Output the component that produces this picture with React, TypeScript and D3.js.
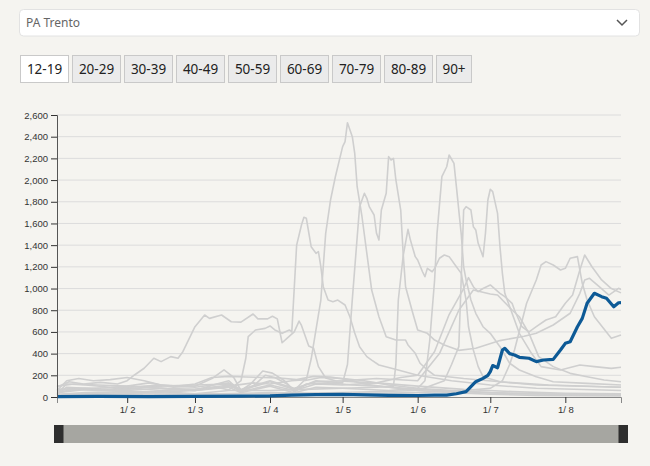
import React, { useEffect, useRef } from "react";
import * as d3 from "d3";

type Pt = [string, number];

const region = "PA Trento";
const ageGroups = ["12-19", "20-29", "30-39", "40-49", "50-59", "60-69", "70-79", "80-89", "90+"];
const selectedGroup = "12-19";
const yTicks = [0, 200, 400, 600, 800, 1000, 1200, 1400, 1600, 1800, 2000, 2200, 2400, 2600];
const xDomain = ["01-03", "08-24"];
const xTicks = ["02-01", "03-01", "04-01", "05-01", "06-01", "07-01", "08-01"];

// highlighted group
const teen: Pt[] = [
  ["01-03", 3], ["01-20", 5], ["02-10", 4], ["03-01", 6], ["03-20", 8], ["04-01", 10], ["04-10", 18],
  ["04-20", 22], ["05-01", 25], ["05-10", 20], ["05-20", 15], ["06-01", 14], ["06-08", 18], ["06-13", 18],
  ["06-17", 30], ["06-21", 49], ["06-23", 95], ["06-25", 141], ["06-28", 172], ["06-30", 200], ["07-01", 234],
  ["07-02", 290], ["07-04", 270], ["07-06", 433], ["07-07", 449], ["07-09", 400], ["07-11", 387], ["07-13", 366],
  ["07-17", 357], ["07-20", 326], ["07-23", 341], ["07-27", 347], ["07-30", 433], ["08-01", 495], ["08-03", 510],
  ["08-06", 648], ["08-08", 725], ["08-10", 864], ["08-13", 956], ["08-16", 925], ["08-18", 910], ["08-21", 832],
  ["08-23", 869], ["08-24", 870],
];

// other groups (grey)
const g1: Pt[] = [
  ["01-03", 90], ["01-08", 140], ["01-14", 120], ["01-21", 135], ["01-28", 120], ["02-01", 150], ["02-04", 203],
  ["02-08", 265], ["02-12", 357], ["02-15", 326], ["02-19", 372], ["02-22", 357], ["02-24", 418], ["02-27", 556],
  ["03-01", 648], ["03-05", 756], ["03-07", 725], ["03-12", 756], ["03-16", 694], ["03-20", 690], ["03-25", 765],
  ["03-27", 720], ["03-31", 720], ["04-02", 745], ["04-04", 720], ["04-06", 500], ["04-08", 540], ["04-11", 600],
  ["04-13", 700], ["04-14", 660], ["04-17", 470], ["04-19", 450], ["04-21", 280], ["04-24", 175], ["04-28", 150],
  ["05-05", 140], ["05-15", 130], ["06-01", 100], ["06-20", 70], ["07-10", 50], ["08-01", 35], ["08-24", 30],
];
const g2: Pt[] = [
  ["01-03", 40], ["01-10", 70], ["01-20", 60], ["02-01", 80], ["02-15", 60], ["03-01", 70], ["03-10", 90],
  ["03-15", 65], ["03-20", 150], ["03-22", 357], ["03-23", 556], ["03-26", 618], ["03-30", 633], ["04-01", 655],
  ["04-03", 618], ["04-06", 587], ["04-09", 618], ["04-10", 600], ["04-12", 1400], ["04-14", 1586], ["04-15", 1657],
  ["04-16", 1648], ["04-18", 1386], ["04-20", 1325], ["04-21", 1340], ["04-22", 1201], ["04-23", 1017], ["04-25", 894],
  ["04-27", 879], ["04-29", 894], ["05-02", 848], ["05-04", 740], ["05-06", 590], ["05-08", 464], ["05-11", 372],
  ["05-13", 340], ["05-16", 295], ["05-22", 260], ["06-01", 200], ["06-15", 150], ["07-01", 110], ["07-20", 80],
  ["08-24", 60],
];
const g3: Pt[] = [
  ["01-03", 100], ["01-10", 120], ["01-20", 110], ["02-01", 100], ["02-15", 80], ["03-01", 60], ["03-15", 100],
  ["03-25", 130], ["04-01", 120], ["04-10", 150], ["04-16", 160], ["04-18", 350], ["04-22", 894], ["04-24", 1509],
  ["04-26", 1816], ["04-28", 2031], ["05-01", 2308], ["05-02", 2354], ["05-03", 2529], ["05-05", 2400],
  ["05-06", 2247], ["05-07", 1939], ["05-09", 1662], ["05-11", 1325], ["05-13", 986], ["05-16", 740], ["05-19", 556],
  ["05-23", 525], ["05-27", 525], ["05-28", 480], ["05-31", 403], ["06-02", 311], ["06-05", 249], ["06-08", 200],
  ["06-20", 170], ["07-05", 140], ["07-25", 110], ["08-24", 90],
];
const g4: Pt[] = [
  ["01-03", 70], ["01-12", 80], ["01-25", 70], ["02-01", 90], ["02-15", 100], ["03-01", 110], ["03-15", 120],
  ["03-20", 60], ["04-01", 140], ["04-11", 70], ["04-20", 150], ["05-01", 130], ["05-03", 300], ["05-05", 900],
  ["05-08", 1755], ["05-10", 1878], ["05-11", 1832], ["05-12", 1755], ["05-14", 1678], ["05-15", 1509],
  ["05-16", 1447], ["05-17", 1724], ["05-19", 1878], ["05-20", 2216], ["05-21", 2185], ["05-22", 2200],
  ["05-23", 2001], ["05-25", 1724], ["05-26", 1325], ["05-27", 1017], ["05-30", 772], ["06-01", 618], ["06-05", 587],
  ["06-08", 525], ["06-12", 480], ["06-18", 430], ["06-25", 450], ["07-05", 520], ["07-15", 560], ["07-20", 587],
  ["07-27", 664], ["08-03", 772], ["08-07", 956], ["08-09", 1079], ["08-11", 1094], ["08-15", 1017], ["08-19", 940],
  ["08-23", 1002], ["08-24", 990],
];
const g5: Pt[] = [
  ["01-03", 20], ["01-15", 30], ["02-01", 40], ["02-15", 50], ["03-01", 30], ["03-15", 60], ["04-01", 60],
  ["04-15", 70], ["05-01", 80], ["05-15", 90], ["05-22", 100], ["05-23", 300], ["05-24", 894], ["05-26", 1300],
  ["05-28", 1546], ["05-29", 1447], ["05-31", 1294], ["06-01", 1263], ["06-03", 1155], ["06-04", 1109],
  ["06-05", 1186], ["06-07", 1155], ["06-08", 1186], ["06-10", 1279], ["06-12", 1309], ["06-14", 1294],
  ["06-17", 1201], ["06-19", 1140], ["06-21", 894], ["06-22", 648], ["06-24", 433], ["06-26", 280], ["06-28", 187],
  ["07-05", 140], ["07-20", 110], ["08-24", 90],
];
const g6: Pt[] = [
  ["01-03", 25], ["01-15", 40], ["02-01", 50], ["02-15", 45], ["03-01", 60], ["03-15", 90], ["03-20", 40],
  ["04-01", 100], ["04-11", 40], ["04-20", 90], ["05-01", 80], ["05-20", 60], ["06-01", 80], ["06-04", 150],
  ["06-06", 525], ["06-08", 1079], ["06-09", 1509], ["06-11", 2031], ["06-13", 2123], ["06-14", 2231],
  ["06-16", 2154], ["06-17", 1939], ["06-19", 1500], ["06-20", 1200], ["06-21", 1079], ["06-23", 894], ["06-25", 772],
  ["06-28", 648], ["07-01", 587], ["07-05", 464], ["07-09", 311], ["07-13", 249], ["07-20", 187], ["07-27", 141],
  ["08-10", 126], ["08-24", 110],
];
const g7: Pt[] = [
  ["01-03", 10], ["01-20", 20], ["02-01", 20], ["03-01", 30], ["04-01", 30], ["05-01", 40], ["06-01", 60],
  ["06-12", 150], ["06-15", 300], ["06-18", 464], ["06-20", 1724], ["06-21", 1755], ["06-23", 1724], ["06-24", 1570],
  ["06-25", 1540], ["06-26", 1417], ["06-28", 1294], ["06-29", 1509], ["06-30", 1816], ["07-01", 1915],
  ["07-02", 1893], ["07-04", 1693], ["07-05", 1386], ["07-06", 1140], ["07-07", 956], ["07-10", 772], ["07-13", 587],
  ["07-18", 403], ["07-22", 280], ["07-30", 249], ["08-07", 295], ["08-13", 280], ["08-20", 264], ["08-24", 275],
];
const g8: Pt[] = [
  ["01-03", 40], ["01-15", 70], ["02-01", 60], ["02-15", 80], ["03-01", 70], ["03-15", 110], ["03-20", 50],
  ["04-01", 110], ["04-11", 60], ["04-20", 120], ["05-01", 110], ["05-15", 130], ["05-25", 180], ["06-01", 200],
  ["06-08", 420], ["06-14", 760], ["06-20", 1000], ["06-22", 1100], ["06-24", 1017], ["06-26", 971], ["06-28", 1000],
  ["07-01", 1033], ["07-05", 956], ["07-07", 925], ["07-10", 864], ["07-11", 802], ["07-14", 650], ["07-17", 600],
  ["07-20", 648], ["07-24", 710], ["07-28", 740], ["08-01", 864], ["08-04", 940], ["08-07", 1171], ["08-09", 1309],
  ["08-12", 1201], ["08-16", 1079], ["08-20", 1000], ["08-24", 960],
];
const g9: Pt[] = [
  ["01-03", 60], ["01-15", 80], ["02-01", 90], ["02-15", 110], ["03-01", 90], ["03-15", 130], ["03-20", 70],
  ["04-01", 150], ["04-11", 80], ["04-20", 140], ["05-01", 150], ["05-15", 170], ["06-01", 150], ["06-10", 400],
  ["06-18", 800], ["06-24", 986], ["07-01", 950], ["07-04", 940], ["07-10", 802], ["07-13", 740], ["07-17", 587],
  ["07-21", 372], ["07-27", 280], ["08-03", 218], ["08-10", 187], ["08-17", 157], ["08-24", 141],
];
const g10: Pt[] = [
  ["01-03", 15], ["02-01", 30], ["03-01", 25], ["04-01", 40], ["05-01", 30], ["06-01", 40], ["06-20", 60],
  ["07-01", 80], ["07-06", 150], ["07-09", 300], ["07-11", 433], ["07-16", 864], ["07-20", 1079], ["07-22", 1217],
  ["07-24", 1248], ["07-27", 1217], ["07-30", 1171], ["08-01", 1186], ["08-03", 1279], ["08-06", 1294],
  ["08-08", 1048], ["08-10", 894], ["08-13", 740], ["08-20", 541], ["08-24", 571],
];
const g11: Pt[] = [
  ["01-03", 60], ["01-07", 150], ["01-12", 170], ["01-18", 150], ["01-25", 160], ["02-01", 180], ["02-08", 150],
  ["02-15", 110], ["02-22", 100], ["03-01", 120], ["03-08", 180], ["03-15", 190], ["03-22", 185], ["03-29", 180],
  ["04-05", 175], ["04-12", 160], ["04-19", 190], ["04-26", 185], ["05-03", 160], ["05-10", 120], ["05-20", 90],
  ["06-01", 60], ["06-15", 40], ["07-01", 25], ["07-20", 15], ["08-24", 10],
];
const g12: Pt[] = [
  ["01-03", 30], ["01-07", 120], ["01-15", 110], ["01-25", 90], ["02-01", 100], ["02-10", 130], ["02-20", 90],
  ["03-01", 100], ["03-08", 170], ["03-13", 250], ["03-17", 180], ["03-20", 60], ["03-24", 120], ["03-29", 240],
  ["04-02", 220], ["04-07", 150], ["04-11", 60], ["04-15", 150], ["04-22", 180], ["05-01", 170], ["05-10", 150],
  ["05-20", 110], ["06-01", 80], ["06-15", 60], ["07-01", 40], ["07-20", 30], ["08-24", 20],
];
const g13: Pt[] = [
  ["01-03", 20], ["01-07", 90], ["01-15", 80], ["01-25", 60], ["02-01", 70], ["02-10", 90], ["02-20", 70],
  ["03-01", 60], ["03-10", 120], ["03-15", 150], ["03-20", 50], ["03-25", 100], ["03-30", 200], ["04-03", 180],
  ["04-08", 120], ["04-11", 45], ["04-16", 120], ["04-25", 130], ["05-05", 110], ["05-15", 100], ["06-01", 70],
  ["06-20", 50], ["07-10", 30], ["08-24", 20],
];
const others = [g1, g2, g3, g4, g5, g6, g7, g8, g9, g10, g11, g12, g13];

const parse = (s: string) => d3.timeParse("%Y-%m-%d")("2021-" + s) as Date;

const App: React.FC = () => {
  const xRef = useRef<SVGGElement | null>(null);
  const yRef = useRef<SVGGElement | null>(null);

  const x = d3.scaleTime().domain(xDomain.map(parse)).range([57, 621]);
  const y = d3.scaleLinear().domain([0, 2600]).range([397, 115]);
  const line = d3
    .line<Pt>()
    .x((d) => x(parse(d[0])))
    .y((d) => y(d[1]));

  useEffect(() => {
    const font = "Liberation Sans, Arial, sans-serif";
    const gx = d3.select(xRef.current!);
    gx.selectAll("*").remove();
    gx.call(
      d3
        .axisBottom(x)
        .tickValues(xTicks.map(parse))
        .tickFormat((d) => d3.timeFormat("%-d/%_m")(d as Date))
    );
    gx.attr("font-family", font).attr("font-size", 9.5).style("color", "#333");
    gx.select(".domain").attr("stroke", "#888");

    const gy = d3.select(yRef.current!);
    gy.selectAll("*").remove();
    gy.call(d3.axisLeft(y).tickValues(yTicks).tickFormat(d3.format(",")));
    gy.attr("font-family", font).attr("font-size", 9.5).style("color", "#333");
    gy.select(".domain").attr("stroke", "#555");
  }, []);

  const btnX = [20, 72, 124, 176, 228, 280, 332, 384, 436];

  return (
    <div style={{ position: "fixed", left: 0, top: 0, width: 650, height: 466, background: "#f5f4f0" }}>
      <svg width={650} height={466} style={{ display: "block" }}>
        <rect x={19.5} y={9.5} width={620} height={26.5} rx={4} fill="#fff" stroke="#e2e2e2" />
        <text x={26} y={27} fontFamily="Noto Sans, sans-serif" fontSize={12} fill="#666">
          {region}
        </text>
        <polyline points="617,20 622,25 627,20" fill="none" stroke="#555" strokeWidth={1.5} />

        {ageGroups.map((g, i) => {
          const w = g === "90+" ? 35 : 48;
          const on = g === selectedGroup;
          return (
            <g key={g}>
              <rect
                x={btnX[i] + 0.5}
                y={55.5}
                width={w}
                height={27}
                fill={on ? "#fff" : "#ebebeb"}
                stroke="#c9c9c9"
              />
              <text
                x={btnX[i] + 0.5 + w / 2}
                y={74}
                textAnchor="middle"
                fontFamily="Noto Sans, sans-serif"
                fontSize={13.5}
                fill="#222"
              >
                {g}
              </text>
            </g>
          );
        })}

        {yTicks
          .filter((t) => t > 0)
          .map((t) => (
            <line key={t} x1={57} x2={621} y1={y(t)} y2={y(t)} stroke="#dcdcdc" strokeWidth={1} />
          ))}

        <g ref={xRef} transform="translate(0,397)" />

        {others.map((s, i) => (
          <path key={i} d={line(s) || ""} fill="none" stroke="#cfcfcf" strokeWidth={1.6} strokeLinejoin="round" />
        ))}
        <path d={line(teen) || ""} fill="none" stroke="#0d5a96" strokeWidth={3.2} strokeLinejoin="round" />

        <g ref={yRef} transform="translate(57,0)" />

        <rect x={54} y={425} width={574} height={18} fill="#a6a6a1" />
        <rect x={54} y={425} width={9.5} height={18} fill="#2e2e2e" />
        <rect x={618.5} y={425} width={9.5} height={18} fill="#2e2e2e" />
      </svg>
    </div>
  );
};

export default App;
